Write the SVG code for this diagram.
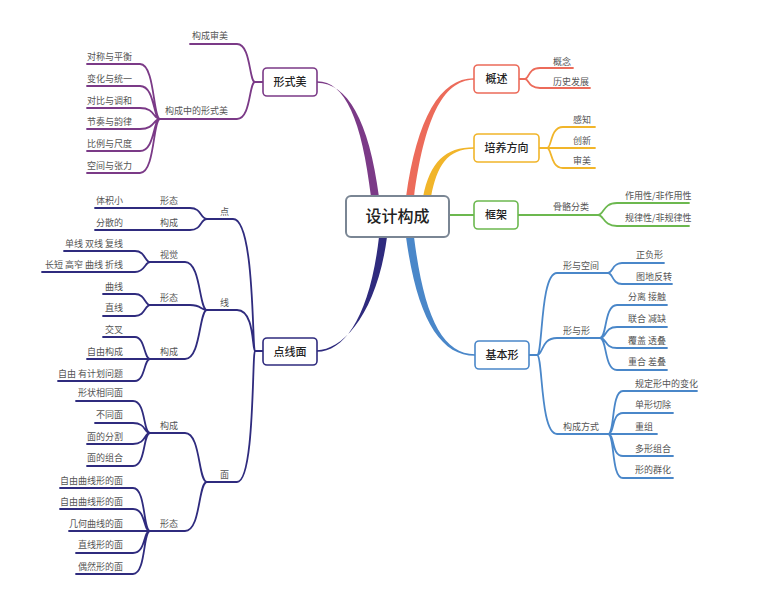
<svg xmlns="http://www.w3.org/2000/svg" width="780" height="600" viewBox="0 0 780 600">
<style>
text{font-family:"Noto Sans CJK SC","Noto Sans",sans-serif}
.leaf{font-size:9px;fill:#555}
.lbl{font-size:11px;fill:#222;text-anchor:middle;font-weight:500}
.end{text-anchor:end}
.ln{fill:none;stroke-width:1.8;stroke-linecap:round}
.pu{stroke:#7b3a87}.co{stroke:#ec6b5a}.or{stroke:#f1b52a}.gr{stroke:#6cb84f}.bl{stroke:#4a87c9}.nv{stroke:#2f2b7e}
.box{fill:#fff;stroke-width:1.6}
</style>
<rect width="780" height="600" fill="#fff"/>
<g id="connectors">
  <path fill="#7b3a87" d="M371,197 C362,120 345,81.2 317,81.2 L317,82.8 C347,82.8 369,120 379,197 Z"/>
  <path fill="#ec6b5a" d="M406,197 C417,118 440,78.2 474,78.2 L474,79.8 C442,79.8 424,122 414,197 Z"/>
  <path fill="#f1b52a" d="M423,197 C430,162 445,147.2 474,147.2 L474,148.8 C447,148.8 437,166 431,197 Z"/>
  <path class="ln gr" stroke-width="2.2" d="M449,215 H474"/>
  <path fill="#4a87c9" d="M406,237 C417,318 440,355.8 475,355.8 L475,354.2 C442,354.2 424,316 414,237 Z"/>
  <path fill="#2f2b7e" d="M379,237 C370,315 345,351.8 317,351.8 L317,350.2 C343,350.2 377,313 387,237 Z"/>
  <path class="ln co" d="M519,79 H525 M525,79 C529,79 528,68 540,68 H573 M525,79 C529,79 528,88 540,88 H590"/>
  <path class="ln or" d="M539,148 H547 M547,148 C552,148 550,127 563,127 H595 M547,148 H595 M547,148 C552,148 550,168 563,168 H595"/>
  <path class="ln gr" d="M518,215 H598 M598,215 C604,215 603,203 617,203 H689 M598,215 C604,215 603,226 617,226 H689"/>
  <path class="ln bl" d="M529,355 H537 M537,355 C543,355 540,273 557,273 H608 M537,355 C543,355 541,338 557,338 H600 M537,355 C543,355 540,434 557,434 H608"/>
  <path class="ln bl" d="M608,273 C613,273 612,263 622,263 H664 M608,273 C613,273 612,284 622,284 H672"/>
  <path class="ln bl" d="M600,338 C607,338 604,305 617,305 H667 M600,338 C607,338 604,327 617,327 H667 M600,338 C607,338 604,348 617,348 H667 M600,338 C607,338 604,370 617,370 H667"/>
  <path class="ln bl" d="M608,434 C615,434 611,391 623,391 H697 M608,434 C615,434 611,413 623,413 H673 M608,434 H657 M608,434 C615,434 611,456 623,456 H673 M608,434 C615,434 611,478 623,478 H673"/>
  <path class="ln pu" d="M263,82 H255 M255,82 C249,82 251,44 237,44 H190 M255,82 C249,82 251,119 237,119 H160"/>
  <path class="ln pu" d="M160,119 C153,119 155,64 140,64 H87 M160,119 C153,119 155,86 140,86 H87 M160,119 C153,119 155,108 140,108 H87 M160,119 C153,119 155,129 140,129 H87 M160,119 C153,119 155,151 140,151 H87 M160,119 C153,119 155,173 140,173 H87"/>
  <path class="ln nv" d="M263,351 H255 M255,351 C252,351 255,219 233,219 H207 M255,351 C252,351 255,310 237,310 H207 M255,351 C252,351 255,482 237,482 H207"/>
  <path class="ln nv" d="M207,219 C200,219 202,208 190,208 H95 M207,219 C200,219 202,230 190,230 H95"/>
  <path class="ln nv" d="M207,310 C199,310 201,262 185,262 H150 M207,310 C200,310 202,305 190,305 H150 M207,310 C199,310 201,359 185,359 H150"/>
  <path class="ln nv" d="M150,262 C145,262 145,251 135,251 H64 M150,262 C145,262 145,272 135,272 H42"/>
  <path class="ln nv" d="M150,305 C145,305 145,294 135,294 H103 M150,305 C145,305 145,316 135,316 H103"/>
  <path class="ln nv" d="M150,359 C144,359 145,337 135,337 H103 M150,359 H87 M150,359 C144,359 145,381 135,381 H58"/>
  <path class="ln nv" d="M207,482 C198,482 201,433 185,433 H150 M207,482 C198,482 201,531 185,531 H150"/>
  <path class="ln nv" d="M150,433 C143,433 146,401 133,401 H76 M150,433 C144,433 146,423 133,423 H95 M150,433 C144,433 146,444 133,444 H87 M150,433 C143,433 146,466 133,466 H87"/>
  <path class="ln nv" d="M150,531 C143,531 146,488 133,488 H60 M150,531 C143,531 146,509 133,509 H60 M150,531 H69 M150,531 C143,531 146,553 133,553 H76 M150,531 C143,531 146,574 133,574 H76"/>
</g>
<g id="center">
  <rect x="346" y="196" width="103" height="41" rx="5" fill="#fff" stroke="#7a8694" stroke-width="2"/>
  <text x="397.5" y="222" font-size="16" fill="#222" text-anchor="middle" font-weight="500">设计构成</text>
</g>
<g id="n-gaishu"><rect class="box" x="474" y="65" width="45" height="28" rx="4" stroke="#ec6b5a"/><text class="lbl" x="496.5" y="83">概述</text></g>
<g id="n-peiyang"><rect class="box" x="474" y="134" width="65" height="28" rx="4" stroke="#f1b52a"/><text class="lbl" x="506.5" y="152">培养方向</text></g>
<g id="n-kuangjia"><rect class="box" x="474" y="201" width="44" height="28" rx="4" stroke="#6cb84f"/><text class="lbl" x="496" y="219">框架</text></g>
<g id="n-jibenxing"><rect class="box" x="475" y="341" width="54" height="28" rx="4" stroke="#4a87c9"/><text class="lbl" x="502" y="359">基本形</text></g>
<g id="n-xingshimei"><rect class="box" x="263" y="68" width="54" height="28" rx="4" stroke="#7b3a87"/><text class="lbl" x="290" y="86">形式美</text></g>
<g id="n-dianxianmian"><rect class="box" x="263" y="338" width="54" height="27" rx="4" stroke="#2f2b7e"/><text class="lbl" x="290" y="355.5">点线面</text></g>
<g id="leaves-right">
  <text class="leaf" x="553" y="65">概念</text>
  <text class="leaf" x="553" y="85">历史发展</text>
  <text class="leaf" x="573" y="123">感知</text>
  <text class="leaf" x="573" y="144">创新</text>
  <text class="leaf" x="573" y="164">审美</text>
  <text class="leaf" x="553" y="210">骨骼分类</text>
  <text class="leaf" x="625" y="199">作用性/非作用性</text>
  <text class="leaf" x="625" y="221">规律性/非规律性</text>
  <text class="leaf" x="563" y="269">形与空间</text>
  <text class="leaf" x="636" y="258">正负形</text>
  <text class="leaf" x="636" y="280">图地反转</text>
  <text class="leaf" x="563" y="334">形与形</text>
  <text class="leaf" x="628" y="300">分离 接触</text>
  <text class="leaf" x="628" y="322">联合 减缺</text>
  <text class="leaf" x="628" y="344">覆盖 透叠</text>
  <text class="leaf" x="628" y="365">重合 差叠</text>
  <text class="leaf" x="563" y="430">构成方式</text>
  <text class="leaf" x="635" y="387">规定形中的变化</text>
  <text class="leaf" x="635" y="408">单形切除</text>
  <text class="leaf" x="635" y="430">重组</text>
  <text class="leaf" x="635" y="452">多形组合</text>
  <text class="leaf" x="635" y="473">形的群化</text>
</g>
<g id="leaves-left">
  <text class="leaf end" x="228" y="39">构成审美</text>
  <text class="leaf end" x="228" y="114">构成中的形式美</text>
  <text class="leaf end" x="132" y="60">对称与平衡</text>
  <text class="leaf end" x="132" y="82">变化与统一</text>
  <text class="leaf end" x="132" y="104">对比与调和</text>
  <text class="leaf end" x="132" y="125">节奏与韵律</text>
  <text class="leaf end" x="132" y="147">比例与尺度</text>
  <text class="leaf end" x="132" y="169">空间与张力</text>
  <text class="leaf" x="220" y="215">点</text>
  <text class="leaf" x="220" y="306">线</text>
  <text class="leaf" x="220" y="478">面</text>
  <text class="leaf end" x="178" y="204">形态</text>
  <text class="leaf end" x="123" y="204">体积小</text>
  <text class="leaf end" x="178" y="226">构成</text>
  <text class="leaf end" x="123" y="226">分散的</text>
  <text class="leaf end" x="178" y="258">视觉</text>
  <text class="leaf end" x="123" y="247">单线 双线 复线</text>
  <text class="leaf end" x="123" y="268">长短 高窄 曲线 折线</text>
  <text class="leaf end" x="178" y="301">形态</text>
  <text class="leaf end" x="123" y="290">曲线</text>
  <text class="leaf end" x="123" y="311">直线</text>
  <text class="leaf end" x="178" y="355">构成</text>
  <text class="leaf end" x="123" y="333">交叉</text>
  <text class="leaf end" x="123" y="355">自由构成</text>
  <text class="leaf end" x="123" y="377">自由 有计划问题</text>
  <text class="leaf end" x="178" y="429">构成</text>
  <text class="leaf end" x="123" y="396">形状相同面</text>
  <text class="leaf end" x="123" y="418">不同面</text>
  <text class="leaf end" x="123" y="440">面的分割</text>
  <text class="leaf end" x="123" y="461">面的组合</text>
  <text class="leaf end" x="178" y="527">形态</text>
  <text class="leaf end" x="123" y="484">自由曲线形的面</text>
  <text class="leaf end" x="123" y="505">自由曲线形的面</text>
  <text class="leaf end" x="123" y="527">几何曲线的面</text>
  <text class="leaf end" x="123" y="548">直线形的面</text>
  <text class="leaf end" x="123" y="570">偶然形的面</text>
</g>
</svg>
